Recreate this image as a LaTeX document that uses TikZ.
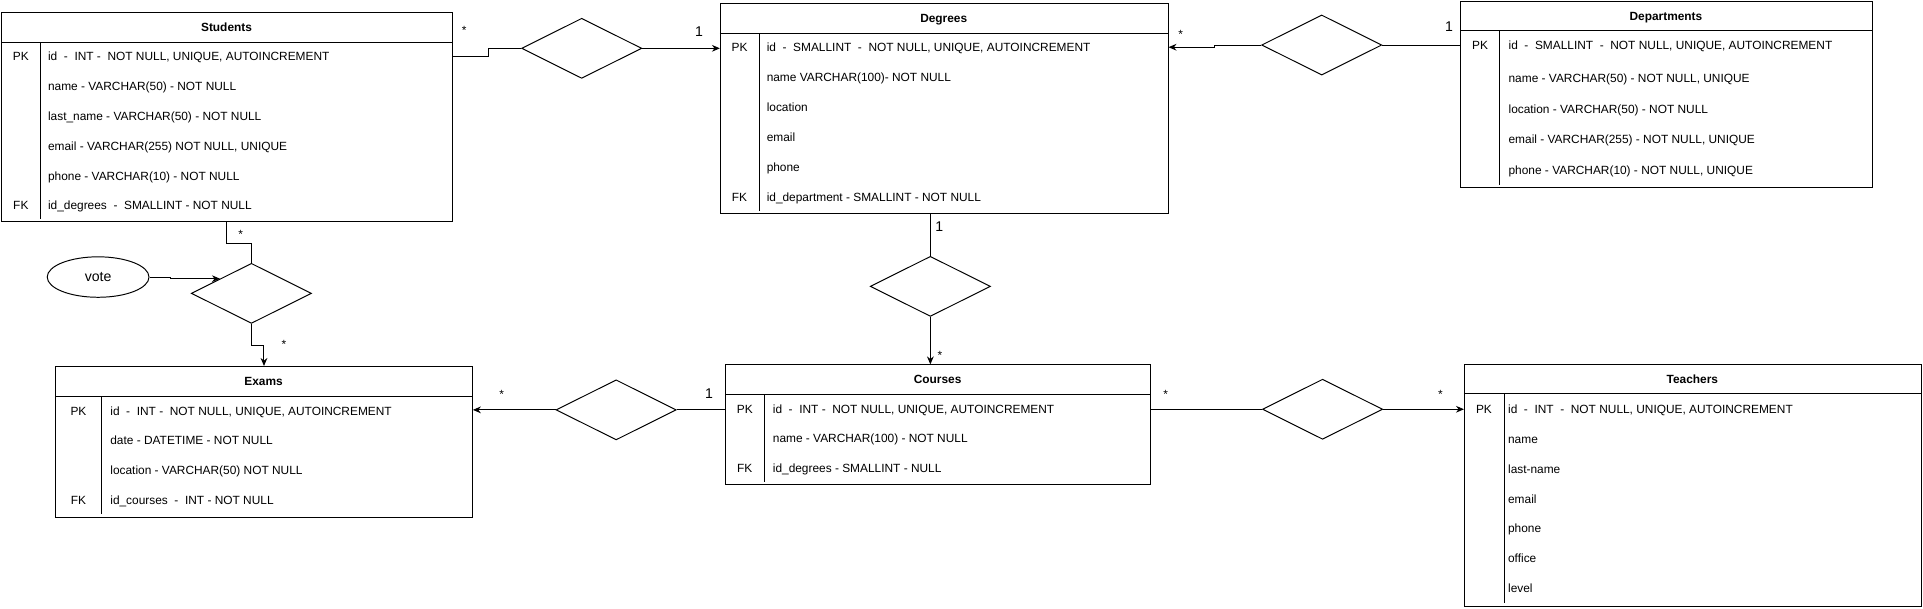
\documentclass[tikz,border=0pt]{standalone}
\usepackage{fontspec}
\setmainfont{Liberation Sans}
\usetikzlibrary{shapes.geometric,arrows.meta}
\newcommand{\rowfont}{\fontsize{9.7}{11}\selectfont}
\begin{document}
\begin{tikzpicture}[x=1pt,y=-1pt,
    tbl/.style={draw,line width=0.8pt,anchor=north west,inner sep=0pt},
    hdr/.style={font=\rowfont\bfseries,text height=7pt,text depth=0pt,inner sep=0pt},
    key/.style={font=\rowfont,text height=7pt,text depth=0pt,inner sep=0pt},
    attr/.style={key,anchor=west},
    rel/.style={draw,diamond,line width=0.8pt,minimum width=98pt,minimum height=49pt,inner sep=0pt},
    cardmany/.style={font=\rowfont,text height=10.8pt,text depth=0pt,inner sep=0pt},
    cardone/.style={font=\fontsize{11.5}{13}\selectfont,text height=8.2pt,text depth=0pt,inner sep=0pt},
    link/.style={line width=0.8pt},
    arr/.style={link,-{Stealth[length=6.5pt,width=5.5pt]}}]
        \useasboundingbox (0,0) rectangle (1568,496);

        %Students
        \node[tbl,minimum width=367.3pt,minimum height=170.2pt] (students) at (1,10) {};
        \draw[link] (1,34.5) -- (368.3,34.5);
        \draw[link] (33,34.5) -- (33,178.2);
        \node[hdr] (stu-head) at (184.7,22.2) {Students};
        \node[key] (stu-pk) at (17,46.2) {PK};
        \node[key] (stu-fk) at (17,167.7) {FK};
        \node[attr] (stu-id) at (39,46.2) {id~~-~~INT~-~~NOT NULL, UNIQUE, AUTOINCREMENT};
        \node[attr] (stu-name) at (39,70.5) {name - VARCHAR(50) - NOT NULL};
        \node[attr] (stu-last) at (39,94.8) {last\_name - VARCHAR(50) - NOT NULL};
        \node[attr] (stu-mail) at (39,119.1) {email - VARCHAR(255) NOT NULL, UNIQUE};
        \node[attr] (stu-phone) at (39,143.4) {phone - VARCHAR(10) - NOT NULL};
        \node[attr] (stu-deg) at (39,167.7) {id\_degrees~~-~~SMALLINT - NOT NULL};

        %Degrees
        \node[tbl,minimum width=365pt,minimum height=171.2pt] (degrees) at (587,2.7) {};
        \draw[link] (587,27.2) -- (952,27.2);
        \draw[link] (619,27.2) -- (619,171.9);
        \node[hdr] (deg-head) at (769.5,15) {Degrees};
        \node[key] (deg-pk) at (603,38.5) {PK};
        \node[key] (deg-fk) at (603,161) {FK};
        \node[attr] (deg-id) at (625,38.5) {id~~-~~SMALLINT~~-~~NOT NULL, UNIQUE, AUTOINCREMENT};
        \node[attr] (deg-name) at (625,63) {name VARCHAR(100)- NOT NULL};
        \node[attr] (deg-loc) at (625,87.5) {location};
        \node[attr] (deg-mail) at (625,112) {email};
        \node[attr] (deg-phone) at (625,136.5) {phone};
        \node[attr] (deg-dep) at (625,161) {id\_department - SMALLINT - NOT NULL};

        %Departments
        \node[tbl,minimum width=335.7pt,minimum height=151.7pt] (departments) at (1190.5,1) {};
        \draw[link] (1190.5,25) -- (1526.2,25);
        \draw[link] (1223,25) -- (1223,150.7);
        \node[hdr] (dep-head) at (1358.4,13) {Departments};
        \node[key] (dep-pk) at (1206.8,36.5) {PK};
        \node[attr] (dep-id) at (1229.9,36.5) {id~~-~~SMALLINT~~-~~NOT NULL, UNIQUE, AUTOINCREMENT};
        \node[attr] (dep-name) at (1229.9,63.5) {name - VARCHAR(50) - NOT NULL, UNIQUE};
        \node[attr] (dep-loc) at (1229.9,89) {location - VARCHAR(50) - NOT NULL};
        \node[attr] (dep-mail) at (1229.9,113.5) {email - VARCHAR(255) - NOT NULL, UNIQUE};
        \node[attr] (dep-phone) at (1229.9,138.5) {phone - VARCHAR(10) - NOT NULL, UNIQUE};

        %Exams
        \node[tbl,minimum width=339.9pt,minimum height=122.9pt] (exams) at (44.9,298.4) {};
        \draw[link] (44.9,322.9) -- (384.8,322.9);
        \draw[link] (83.1,322.9) -- (83.1,419.3);
        \node[hdr] (exa-head) at (214.9,310.7) {Exams};
        \node[key] (exa-pk) at (64,335.1) {PK};
        \node[key] (exa-fk) at (64,407.7) {FK};
        \node[attr] (exa-id) at (89.8,335.1) {id~~-~~INT~-~~NOT NULL, UNIQUE, AUTOINCREMENT};
        \node[attr] (exa-date) at (89.8,359.3) {date - DATETIME - NOT NULL};
        \node[attr] (exa-loc) at (89.8,383.5) {location - VARCHAR(50) NOT NULL};
        \node[attr] (exa-cou) at (89.8,407.7) {id\_courses~~-~~INT - NOT NULL};

        %Courses
        \node[tbl,minimum width=346.3pt,minimum height=97.6pt] (courses) at (591.3,297.1) {};
        \draw[link] (591.3,321.3) -- (937.6,321.3);
        \draw[link] (623.4,321.3) -- (623.4,392.7);
        \node[hdr] (cou-head) at (764.5,309.2) {Courses};
        \node[key] (cou-pk) at (607.3,333.5) {PK};
        \node[key] (cou-fk) at (607.3,381.9) {FK};
        \node[attr] (cou-id) at (630,333.5) {id~~-~~INT~-~~NOT NULL, UNIQUE, AUTOINCREMENT};
        \node[attr] (cou-name) at (630,357.7) {name - VARCHAR(100) - NOT NULL};
        \node[attr] (cou-deg) at (630,381.9) {id\_degrees - SMALLINT - NULL};

        %Teachers
        \node[tbl,minimum width=372.4pt,minimum height=197.1pt] (teachers) at (1193.7,296.8) {};
        \draw[link] (1193.7,320.9) -- (1566.1,320.9);
        \draw[link] (1226.4,320.9) -- (1226.4,491.9);
        \node[hdr] (tea-head) at (1379.9,308.9) {Teachers};
        \node[key] (tea-pk) at (1210,333.8) {PK};
        \node[attr] (tea-id) at (1229.5,333.8) {id~~-~~INT~~-~~NOT NULL, UNIQUE, AUTOINCREMENT};
        \node[attr] (tea-name) at (1229.5,358.1) {name};
        \node[attr] (tea-last) at (1229.5,382.4) {last-name};
        \node[attr] (tea-mail) at (1229.5,406.7) {email};
        \node[attr] (tea-phone) at (1229.5,431) {phone};
        \node[attr] (tea-office) at (1229.5,455.3) {office};
        \node[attr] (tea-level) at (1229.5,479.6) {level};

        %relations
        \node[rel] (rel1) at (474.3,39.4) {};
        \node[rel] (rel2) at (1077.7,36.7) {};
        \node[rel] (rel3) at (205,239.2) {};
        \node[rel] (rel4) at (758.6,233.5) {};
        \node[rel] (rel5) at (502.4,334.2) {};
        \node[rel] (rel6) at (1078.4,333.7) {};
        \node[draw,ellipse,line width=0.8pt,minimum width=83pt,minimum height=33pt,inner sep=0pt,
            font=\fontsize{11.5}{13}\selectfont] (vote) at (80,225.9) {vote};

        \draw[link] (students.east |- stu-id) -- ++(29,0) |- (rel1.west);
        \draw[arr] (rel1.east) -- (rel1.east -| degrees.west);
        \draw[arr] (rel2.west) -- ++(-38,0) |- (degrees.east |- deg-id);
        \draw[link] (rel2.east) -- (rel2.east -| departments.west);
        \draw[link] (students.south) -- ++(0,17.4) -| (rel3.north);
        \draw[arr] (vote.east) -- ++(17,0) |- (rel3.155);
        \draw[arr] (rel3.south) -- ++(0,17.2) -| (exams.north);
        \draw[link] (rel4.north |- degrees.south) -- (rel4.north);
        \draw[arr] (rel4.south) -- (rel4.south |- courses.north);
        \draw[arr] (rel5.west) -- (rel5.west -| exams.east);
        \draw[link] (rel5.east) -- (rel5.east -| courses.west);
        \draw[link] (courses.east |- rel6.west) -- (rel6.west);
        \draw[arr] (rel6.east) -- (rel6.east -| teachers.west);

        %cardinalities
        \node[cardmany] (many1) at (378.4,22.8) {*};
        \node[cardone] (one1) at (570,26) {1};
        \node[cardmany] (many2) at (962.7,25.8) {*};
        \node[cardone] (one2) at (1181.5,21.7) {1};
        \node[cardmany] (many3) at (196.2,188.9) {*};
        \node[cardmany] (many4) at (231.6,278.6) {*};
        \node[cardone] (one3) at (765.9,184.3) {1};
        \node[cardmany] (many5) at (766.5,288.1) {*};
        \node[cardmany] (many6) at (409,319.9) {*};
        \node[cardone] (one4) at (578.2,320.7) {1};
        \node[cardmany] (many7) at (950.4,319.4) {*};
        \node[cardmany] (many8) at (1174.5,319.5) {*};

    \end{tikzpicture}
\end{document}
